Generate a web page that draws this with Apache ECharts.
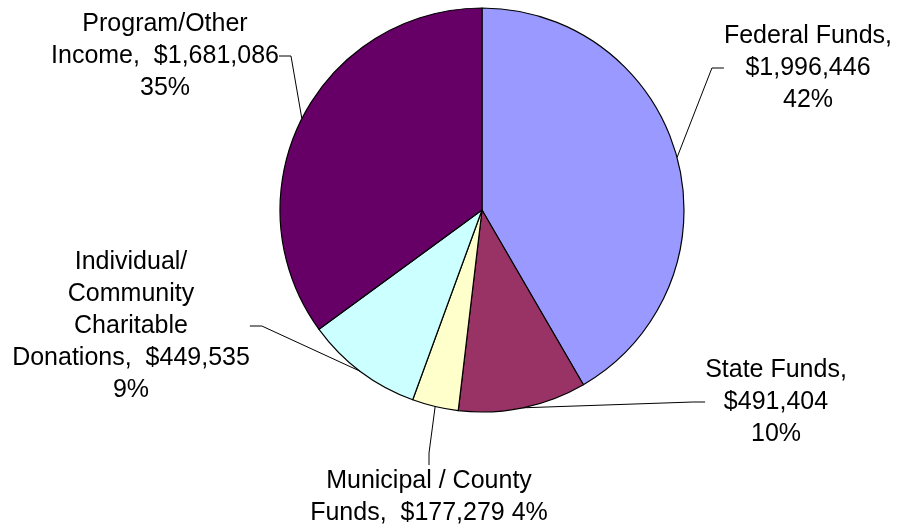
<!DOCTYPE html>
<html>
<head>
<meta charset="utf-8">
<script src="https://cdn.jsdelivr.net/npm/echarts@6/dist/echarts.min.js"></script>
<style>
html,body{margin:0;padding:0;background:#fff;}
#chart{width:897px;height:529px;}
</style>
</head>
<body>
<div id="chart"></div>
<script>
// Data
var categories = ['Federal Funds', 'State Funds', 'Municipal / County Funds', 'Individual/ Community Charitable Donations', 'Program/Other Income'];
var values = [1996446, 491404, 177279, 449535, 1681086];
// label text templates ({v} = amount, {p} = percent)
var labelTemplates = [
  'Federal Funds,\n{v}\n{p}',
  'State Funds,\n{v}\n{p}',
  'Municipal / County\nFunds,  {v} {p}',
  'Individual/\nCommunity\nCharitable\nDonations,  {v}\n{p}',
  'Program/Other\nIncome,  {v}\n{p}'
];
var colors = ['#9999FF', '#993366', '#FFFFCC', '#CCFFFF', '#660066'];
// label block centres (annotation placement)
var labelPos = [[808, 68], [776, 402], [429, 497], [131, 326], [165, 56]];

function money(v) {
  return '$' + v.toString().replace(/\B(?=(\d{3})+(?!\d))/g, ',');
}

var chart = echarts.init(document.getElementById('chart'), null, {renderer: 'canvas'});
chart.setOption({
  backgroundColor: '#ffffff',
  animation: false,
  series: [{
    type: 'pie',
    center: [482, 210],
    radius: 202,
    startAngle: 90,
    clockwise: true,
    percentPrecision: 0,
    avoidLabelOverlap: false,
    data: categories.map(function (c, i) {
      return {name: c, value: values[i], itemStyle: {color: colors[i]}};
    }),
    itemStyle: {borderColor: '#000', borderWidth: 1.2},
    emphasis: {disabled: true},
    label: {
      show: true,
      position: 'outside',
      color: '#000',
      fontFamily: '"Liberation Sans", Arial, sans-serif',
      fontSize: 25,
      lineHeight: 32,
      align: 'center',
      formatter: function (p) {
        return labelTemplates[p.dataIndex].replace('{v}', money(p.value)).replace('{p}', p.percent + '%');
      }
    },
    labelLine: {show: true, length: 10, length2: 12, lineStyle: {color: '#000', width: 1}},
    labelLayout: function (params) {
      var pos = labelPos[params.dataIndex];
      return {x: pos[0], y: pos[1], align: 'center', verticalAlign: 'middle'};
    }
  }]
});
</script>
</body>
</html>
